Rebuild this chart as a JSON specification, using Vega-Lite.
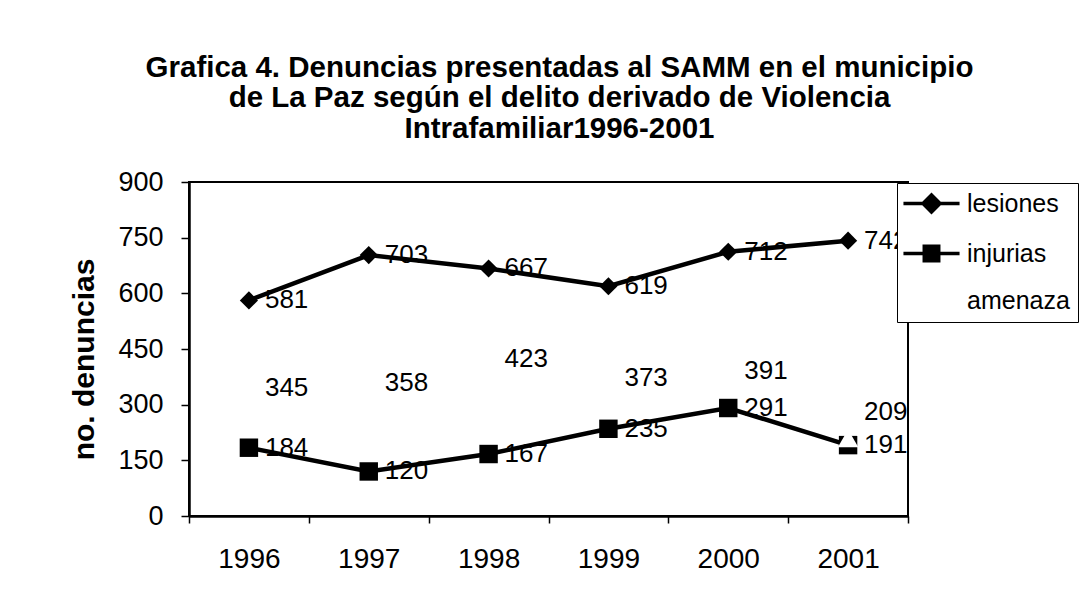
{
  "$schema": "https://vega.github.io/schema/vega-lite/v6.json",
  "autosize": "none",
  "width": 719,
  "height": 334,
  "padding": {"left": 189, "top": 182, "right": 176, "bottom": 89},
  "background": "white",
  "config": {
    "font": "Liberation Sans",
    "view": {"stroke": "black", "strokeWidth": 2},
    "axis": {"grid": false, "domainColor": "black", "domainWidth": 2.5, "tickColor": "black", "tickWidth": 1.5, "labelColor": "black", "labelFont": "Liberation Sans", "titleFont": "Liberation Sans", "titleColor": "black"}
  },
  "title": {
    "text": ["Grafica 4. Denuncias presentadas al SAMM en el municipio", "de La Paz según el delito derivado de Violencia", "Intrafamiliar1996-2001"],
    "anchor": "middle",
    "dx": 11,
    "offset": 24,
    "fontSize": 29.5,
    "lineHeight": 30.5,
    "fontWeight": "bold",
    "font": "Liberation Sans",
    "color": "black"
  },
  "data": {
    "values": [
      {"year": "1996", "series": "lesiones", "value": 581},
      {"year": "1997", "series": "lesiones", "value": 703},
      {"year": "1998", "series": "lesiones", "value": 667},
      {"year": "1999", "series": "lesiones", "value": 619},
      {"year": "2000", "series": "lesiones", "value": 712},
      {"year": "2001", "series": "lesiones", "value": 742},
      {"year": "1996", "series": "injurias", "value": 184},
      {"year": "1997", "series": "injurias", "value": 120},
      {"year": "1998", "series": "injurias", "value": 167},
      {"year": "1999", "series": "injurias", "value": 235},
      {"year": "2000", "series": "injurias", "value": 291},
      {"year": "2001", "series": "injurias", "value": 191},
      {"year": "1996", "series": "amenaza", "value": 345},
      {"year": "1997", "series": "amenaza", "value": 358},
      {"year": "1998", "series": "amenaza", "value": 423},
      {"year": "1999", "series": "amenaza", "value": 373},
      {"year": "2000", "series": "amenaza", "value": 391},
      {"year": "2001", "series": "amenaza", "value": 209}
    ]
  },
  "encoding": {
    "x": {
      "field": "year", "type": "ordinal",
      "scale": {"type": "band", "paddingInner": 0, "paddingOuter": 0},
      "axis": {"title": null, "labelAngle": 0, "labelFontSize": 28, "labelPadding": 22, "tickSize": 7, "tickBand": "extent"}
    },
    "y": {
      "field": "value", "type": "quantitative",
      "scale": {"domain": [0, 900], "nice": false},
      "axis": {"title": "no. denuncias", "values": [0, 150, 300, 450, 600, 750, 900], "labelFontSize": 27, "labelPadding": 18, "tickSize": 8, "titleFontSize": 30, "titleFontWeight": "bold", "titleAngle": -90, "titleX": -105, "titleY": 177, "titleAlign": "center", "titleBaseline": "middle"}
    }
  },
  "layer": [
    {
      "mark": {"type": "line", "strokeWidth": 4.5},
      "encoding": {
        "detail": {"field": "series"},
        "color": {"condition": {"test": "datum.series === 'amenaza'", "value": "white"}, "value": "black"}
      }
    },
    {
      "transform": [{"filter": "datum.series === 'lesiones'"}],
      "mark": {"type": "point", "shape": "diamond", "filled": true, "color": "black", "size": 330, "opacity": 1}
    },
    {
      "transform": [{"filter": "datum.series === 'injurias'"}],
      "mark": {"type": "point", "shape": "square", "filled": true, "color": "black", "size": 340, "opacity": 1}
    },
    {
      "transform": [{"filter": "datum.series === 'amenaza'"}],
      "mark": {"type": "point", "shape": "triangle-up", "filled": true, "color": "white", "size": 420, "opacity": 1}
    },
    {
      "transform": [{"filter": "!(datum.series === 'amenaza' && datum.year === '2001')"}],
      "mark": {"type": "text", "align": "left", "baseline": "middle", "dx": 16, "fontSize": 26, "color": "black", "font": "Liberation Sans"},
      "encoding": {"text": {"field": "value", "type": "quantitative"}}
    },
    {
      "transform": [{"filter": "datum.series === 'amenaza' && datum.year === '2001'"}],
      "mark": {"type": "text", "align": "left", "baseline": "middle", "dx": 16, "dy": -26, "fontSize": 26, "color": "black", "font": "Liberation Sans"},
      "encoding": {"text": {"field": "value", "type": "quantitative"}}
    },
    {
      "transform": [{"filter": "datum.value < 0"}],
      "mark": {"type": "point", "filled": true, "strokeWidth": 3.5, "size": 289, "opacity": 1},
      "encoding": {
        "shape": {
          "field": "series", "type": "nominal",
          "scale": {"domain": ["lesiones", "injurias", "amenaza"], "range": ["M-3.3,0L3.3,0M0,-1L1,0L0,1L-1,0Z", "M-3.3,0L3.3,0M-0.85,-0.85L0.85,-0.85L0.85,0.85L-0.85,0.85Z", "M-3.3,0L3.3,0"]},
          "legend": {
            "title": null, "orient": "none", "legendX": 708, "legendY": 1,
            "padding": 8, "symbolOffset": 14, "labelOffset": 23, "rowPadding": 20,
            "symbolSize": 289,
            "labelFontSize": 25, "labelFont": "Liberation Sans", "labelColor": "black", "labelLimit": 300,
            "strokeColor": "black", "fillColor": "white", "symbolStrokeWidth": 3.5,
            "encode": {"symbols": {"update": {"strokeWidth": {"value": 3.5}, "opacity": {"value": 1}}}}
          }
        },
        "fill": {"field": "series", "type": "nominal", "scale": {"domain": ["lesiones", "injurias", "amenaza"], "range": ["black", "black", "white"]}},
        "stroke": {"field": "series", "type": "nominal", "scale": {"domain": ["lesiones", "injurias", "amenaza"], "range": ["black", "black", "white"]}}
      }
    }
  ]
}
